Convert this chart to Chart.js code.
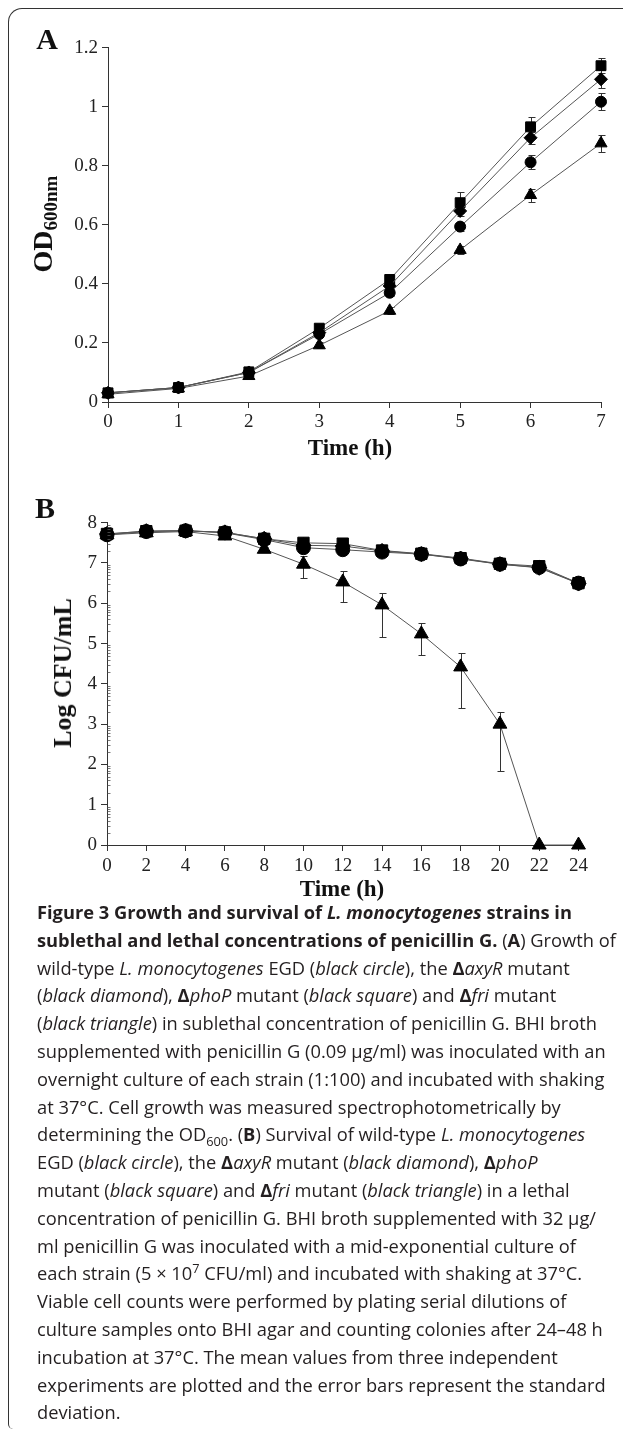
<!DOCTYPE html>
<html><head><meta charset="utf-8">
<script src="https://cdn.jsdelivr.net/npm/chart.js@4/dist/chart.umd.min.js"></script>
<style>
html,body{margin:0;padding:0;background:#fff;}
body{width:625px;height:1432px;position:relative;overflow:hidden;}
#frame{position:absolute;left:8px;top:8px;width:615px;height:1421px;border-top:1.5px solid #333;border-left:1.5px solid #333;border-top-left-radius:14px;border-bottom-left-radius:5px;box-sizing:border-box;}
canvas{position:absolute;left:0;}
#ca{top:0;}
#cb{top:470px;}
.serif{position:absolute;font-family:"Liberation Serif",serif;font-weight:bold;color:#111;white-space:nowrap;line-height:1;}
.rot{transform:translate(-50%,-50%) rotate(-90deg);}
.ctr{transform:translate(-50%,-50%);}
#cap{position:absolute;left:37px;top:898px;font-family:"Open Sans",sans-serif;font-size:18.3px;line-height:27.8px;color:#231f20;white-space:nowrap;}
#cap sub,#cap sup{font-size:70%;line-height:0;}
</style>
</head><body>
<div id="frame"></div>
<canvas id="ca" width="625" height="470"></canvas>
<canvas id="cb" width="625" height="430"></canvas>
<div class="serif ctr" style="left:47px;top:39px;font-size:30px;">A</div>
<div class="serif ctr" style="left:45px;top:508px;font-size:30px;">B</div>
<div class="serif rot" style="left:43px;top:224px;font-size:28px;">OD<span style="font-size:19px;position:relative;top:5px;">600nm</span></div>
<div class="serif rot" style="left:63px;top:673px;font-size:26px;">Log CFU/mL</div>
<div class="serif ctr" style="left:350px;top:447px;font-size:23px;">Time (h)</div>
<div class="serif ctr" style="left:342px;top:888px;font-size:23px;">Time (h)</div>
<div id="cap">
<div><b>Figure 3 Growth and survival of <i>L. monocytogenes</i> strains in</b></div>
<div><b>sublethal and lethal concentrations of penicillin G.</b> (<b>A</b>) Growth of</div>
<div>wild-type <i>L. monocytogenes</i> EGD (<i>black circle</i>), the <b>Δ</b><i>axyR</i> mutant</div>
<div>(<i>black diamond</i>), <b>Δ</b><i>phoP</i> mutant (<i>black square</i>) and <b>Δ</b><i>fri</i> mutant</div>
<div>(<i>black triangle</i>) in sublethal concentration of penicillin G. BHI broth</div>
<div>supplemented with penicillin G (0.09 µg/ml) was inoculated with an</div>
<div>overnight culture of each strain (1:100) and incubated with shaking</div>
<div>at 37°C. Cell growth was measured spectrophotometrically by</div>
<div>determining the OD<sub>600</sub>. (<b>B</b>) Survival of wild-type <i>L. monocytogenes</i></div>
<div>EGD (<i>black circle</i>), the <b>Δ</b><i>axyR</i> mutant (<i>black diamond</i>), <b>Δ</b><i>phoP</i></div>
<div>mutant (<i>black square</i>) and <b>Δ</b><i>fri</i> mutant (<i>black triangle</i>) in a lethal</div>
<div>concentration of penicillin G. BHI broth supplemented with 32 µg/</div>
<div>ml penicillin G was inoculated with a mid-exponential culture of</div>
<div>each strain (5 × 10<sup>7</sup> CFU/ml) and incubated with shaking at 37°C.</div>
<div>Viable cell counts were performed by plating serial dilutions of</div>
<div>culture samples onto BHI agar and counting colonies after 24–48 h</div>
<div>incubation at 37°C. The mean values from three independent</div>
<div>experiments are plotted and the error bars represent the standard</div>
<div>deviation.</div>
</div>
<script>
// ---------- Panel A: growth (OD600) ----------
const timeA = [0, 1, 2, 3, 4, 5, 6, 7];
const xTicksA = [0, 1, 2, 3, 4, 5, 6, 7];
const yTicksA = [0, 0.2, 0.4, 0.6, 0.8, 1, 1.2];
const yLabelsA = ['0', '0.2', '0.4', '0.6', '0.8', '1', '1.2'];
const odWT   = [0.031, 0.049, 0.100, 0.230, 0.370, 0.594, 0.812, 1.017];
const odAxyR = [0.031, 0.049, 0.100, 0.235, 0.393, 0.647, 0.895, 1.093];
const odPhoP = [0.031, 0.049, 0.102, 0.250, 0.415, 0.675, 0.932, 1.139];
const odFri  = [0.026, 0.046, 0.088, 0.192, 0.309, 0.515, 0.701, 0.876];
const sdWT   = [0.004, 0.004, 0.008, 0.010, 0.012, 0.015, 0.023, 0.028];
const sdAxyR = [0.004, 0.004, 0.008, 0.010, 0.012, 0.018, 0.020, 0.030];
const sdPhoP = [0.004, 0.004, 0.008, 0.010, 0.012, 0.035, 0.034, 0.025];
const sdFri  = [0.004, 0.004, 0.008, 0.010, 0.012, 0.015, 0.022, 0.028];

// ---------- Panel B: survival (log CFU/mL) ----------
const timeB = [0, 2, 4, 6, 8, 10, 12, 14, 16, 18, 20, 22, 24];
const xTicksB = [0, 2, 4, 6, 8, 10, 12, 14, 16, 18, 20, 22, 24];
const yTicksB = [0, 1, 2, 3, 4, 5, 6, 7, 8];
const logWT   = [7.70, 7.78, 7.80, 7.75, 7.58, 7.38, 7.33, 7.27, 7.22, 7.10, 6.97, 6.89, 6.50];
const logAxyR = [7.72, 7.79, 7.80, 7.76, 7.60, 7.44, 7.42, 7.30, 7.22, 7.11, 6.97, 6.88, 6.49];
const logPhoP = [7.72, 7.79, 7.80, 7.76, 7.60, 7.50, 7.48, 7.31, 7.23, 7.12, 6.98, 6.92, 6.50];
const logFri  = [7.70, 7.75, 7.78, 7.67, 7.34, 6.97, 6.53, 5.96, 5.24, 4.42, 3.00, 0, 0];
const upWT    = [0.20, 0.04, 0.04, 0.04, 0.04, 0.04, 0.04, 0.04, 0.04, 0.04, 0.04, 0.04, 0.04];
const dnWT    = [0.10, 0.04, 0.04, 0.04, 0.04, 0.04, 0.04, 0.04, 0.04, 0.04, 0.04, 0.04, 0.04];
const upFri   = [0.05, 0.05, 0.05, 0.05, 0.05, 0.20, 0.27, 0.30, 0.28, 0.35, 0.29, 0, 0];
const dnFri   = [0.05, 0.05, 0.05, 0.05, 0.05, 0.34, 0.50, 0.79, 0.53, 1.01, 1.16, 0, 0];

const AX = '#333';
const LINE = '#555';

function errPlugin(bars) {
  return {
    id: 'errbars',
    beforeDatasetsDraw(chart) {
      const {ctx, scales: {x, y}} = chart;
      ctx.save();
      ctx.strokeStyle = '#333';
      ctx.lineWidth = 1;
      bars.forEach(b => {
        b.x.forEach((xv, i) => {
          const up = b.up[i], dn = b.dn[i];
          if (!up && !dn) return;
          const px = Math.round(x.getPixelForValue(xv)) + 0.5;
          const yt = Math.round(y.getPixelForValue(b.y[i] + up)) + 0.5;
          const yb = Math.round(y.getPixelForValue(b.y[i] - dn)) + 0.5;
          ctx.beginPath();
          ctx.moveTo(px, yt); ctx.lineTo(px, yb);
          ctx.moveTo(px - 3, yt); ctx.lineTo(px + 4, yt);
          ctx.moveTo(px - 3, yb); ctx.lineTo(px + 4, yb);
          ctx.stroke();
        });
      });
      ctx.restore();
    }
  };
}

const minorPlugin = {
  id: 'minor',
  afterDraw(chart) {
    const {ctx, scales: {y}} = chart;
    const left = Math.round(chart.chartArea.left) + 0.5;
    ctx.save();
    ctx.strokeStyle = '#555';
    ctx.lineWidth = 0.8;
    for (let i = 0; i < yTicksB.length - 1; i++) {
      for (let k = 2; k <= 9; k++) {
        const py = Math.round(y.getPixelForValue(yTicksB[i] + Math.log10(k))) + 0.5;
        ctx.beginPath(); ctx.moveTo(left, py); ctx.lineTo(left + 3, py); ctx.stroke();
      }
    }
    ctx.restore();
  }
};

function ds(label, xs, ys, style, r) {
  return {
    label, data: xs.map((v, i) => ({x: v, y: ys[i]})),
    borderColor: LINE, borderWidth: 1, pointStyle: style, pointRadius: r, pointHoverRadius: r,
    pointBackgroundColor: '#000', pointBorderColor: '#000', pointBorderWidth: 1,
    fill: false, tension: 0, clip: false
  };
}

function scales(xmin, xmax, xt, ymin, ymax, yt, ylab, yw, xh, xpad) {
  const tickFont = {family: 'Liberation Serif', size: 19};
  return {
    x: {
      type: 'linear', min: xmin, max: xmax,
      afterBuildTicks: s => { s.ticks = xt.map(v => ({value: v})); },
      afterFit: s => { s.height = xh; },
      grid: {display: true, drawOnChartArea: false, drawTicks: true, tickLength: 6, color: AX, lineWidth: 1},
      border: {display: true, color: AX, width: 1},
      ticks: {font: tickFont, color: '#222', padding: xpad, maxRotation: 0, autoSkip: false,
              callback: v => String(v)}
    },
    y: {
      type: 'linear', min: ymin, max: ymax,
      afterBuildTicks: s => { s.ticks = yt.map(v => ({value: v})); },
      afterFit: s => { s.width = yw; },
      grid: {display: true, drawOnChartArea: false, drawTicks: true, tickLength: 6, color: AX, lineWidth: 1},
      border: {display: true, color: AX, width: 1},
      ticks: {font: tickFont, color: '#222', padding: 4, autoSkip: false,
              callback: (v, i) => ylab[i]}
    }
  };
}

const common = {
  responsive: false, animation: false, devicePixelRatio: 1,
  plugins: {legend: {display: false}, tooltip: {enabled: false}},
  events: []
};

new Chart(document.getElementById('ca'), {
  type: 'line',
  data: {datasets: [
    ds('WT', timeA, odWT, 'circle', 5.5),
    ds('axyR', timeA, odAxyR, 'rectRot', 6.5),
    ds('phoP', timeA, odPhoP, 'rect', 7),
    ds('fri', timeA, odFri, 'triangle', 7)
  ]},
  options: Object.assign({}, common, {
    layout: {padding: {left: 0, right: 24, top: 47.7, bottom: 0}},
    scales: scales(0, 7, xTicksA, 0, 1.2, yTicksA, yLabelsA, 108, 68, 3)
  }),
  plugins: [errPlugin([
    {x: timeA, y: odWT, up: sdWT, dn: sdWT},
    {x: timeA, y: odAxyR, up: sdAxyR, dn: sdAxyR},
    {x: timeA, y: odPhoP, up: sdPhoP, dn: sdPhoP},
    {x: timeA, y: odFri, up: sdFri, dn: sdFri}
  ])]
});

new Chart(document.getElementById('cb'), {
  type: 'line',
  data: {datasets: [
    ds('WT', timeB, logWT, 'circle', 7),
    ds('axyR', timeB, logAxyR, 'rectRot', 7.5),
    ds('phoP', timeB, logPhoP, 'rect', 8),
    ds('fri', timeB, logFri, 'triangle', 8)
  ]},
  options: Object.assign({}, common, {
    layout: {padding: {left: 0, right: 46.5, top: 52.7, bottom: 0}},
    scales: scales(0, 24, xTicksB, 0, 8, yTicksB, yTicksB.map(String), 107, 55, 4)
  }),
  plugins: [errPlugin([
    {x: timeB, y: logWT, up: upWT, dn: dnWT},
    {x: timeB, y: logFri, up: upFri, dn: dnFri}
  ]), minorPlugin]
});
</script>
</body></html>
